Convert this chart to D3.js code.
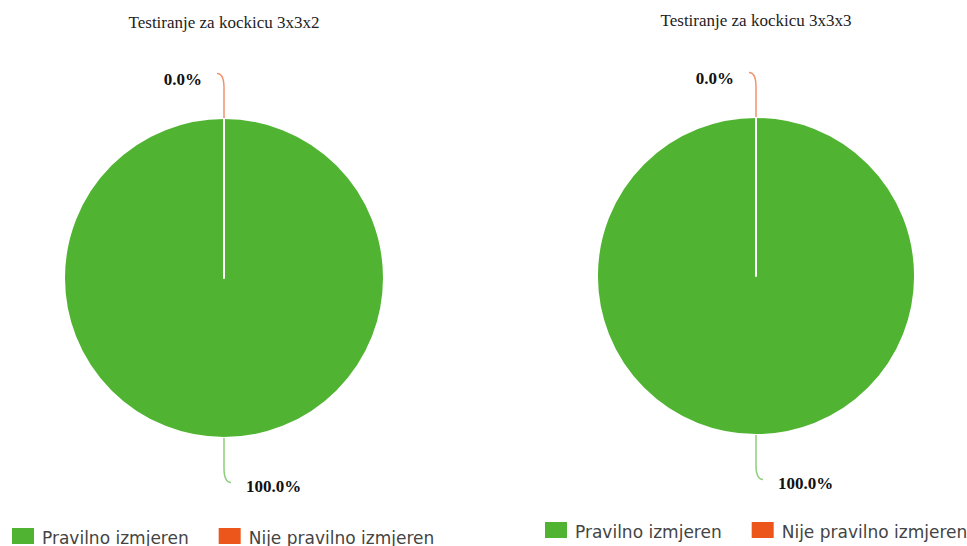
<!DOCTYPE html>
<html>
<head>
<meta charset="utf-8">
<script src="https://cdn.jsdelivr.net/npm/d3@7/dist/d3.min.js"></script>
<style>
  html, body { margin: 0; padding: 0; background: #fff; }
  svg { display: block; }
</style>
</head>
<body>
<svg id="chart" width="967" height="546"></svg>
<script>
// ---- data ----
const categories = ["Pravilno izmjeren", "Nije pravilno izmjeren"];
const colors = ["#50B432", "#ED561B"];
const titles = ["Testiranje za kockicu 3x3x2", "Testiranje za kockicu 3x3x3"];
const values3x3x2 = [100.0, 0.0];
const values3x3x3 = [100.0, 0.0];
const seriesValues = [values3x3x2, values3x3x3];

// ---- layout (not data) ----
const layouts = [
  { cx: 224, cy: 278, r: 160, titleY: 28, legendX: 12, legendY: 544 },
  { cx: 756, cy: 276, r: 159, titleY: 26, legendX: 545, legendY: 538 }
];

const svg = d3.select("#chart");
const color = d3.scaleOrdinal().domain(categories).range(colors);
const fmt = d3.format(".1f");

seriesValues.forEach((vals, ci) => {
  const L = layouts[ci];
  const data = categories.map((c, i) => ({ name: c, value: vals[i] }));
  const total = d3.sum(vals);

  const g = svg.append("g");

  // title
  g.append("text")
    .attr("x", L.cx).attr("y", L.titleY)
    .attr("text-anchor", "middle")
    .style("font-family", "'Liberation Serif', 'Times New Roman', serif")
    .style("font-size", "17px")
    .style("fill", "#222")
    .text(titles[ci]);

  const pie = d3.pie().sort(null).value(d => d.value);
  const arcs = pie(data);
  const arc = d3.arc().innerRadius(0).outerRadius(L.r);

  const pg = g.append("g").attr("transform", `translate(${L.cx},${L.cy})`);

  pg.selectAll("path.slice")
    .data(arcs)
    .join("path")
    .attr("class", "slice")
    .attr("d", arc)
    .attr("fill", d => color(d.data.name))
    .attr("stroke", "#fff")
    .attr("stroke-width", 2)
    .attr("stroke-linejoin", "round");

  // connectors + labels
  arcs.forEach(d => {
    const a = (d.startAngle + d.endAngle) / 2;
    const sx = Math.sin(a), sy = -Math.cos(a);
    const x0 = sx * L.r, y0 = sy * L.r;
    const upper = sy < 0;
    const dir = upper ? -1 : 1;
    const side = upper ? -1 : 1;
    const x1 = x0, y1 = y0 + dir * 30;
    const yEnd = y0 + dir * 44.5;
    const xEnd = x0 + side * 7;
    pg.append("path")
      .attr("d", `M${x0},${y0}L${x1},${y1}Q${x0},${yEnd} ${xEnd},${yEnd}`)
      .attr("fill", "none")
      .attr("stroke", color(d.data.name))
      .attr("stroke-opacity", 0.65)
      .attr("stroke-width", 1.5);

    const pct = total ? d.data.value / total * 100 : 0;
    pg.append("text")
      .attr("x", x0 + side * 22)
      .attr("y", upper ? y0 - 33 : y0 + 54)
      .attr("text-anchor", upper ? "end" : "start")
      .style("font-family", "'Liberation Serif', 'Times New Roman', serif")
      .style("font-size", "17px")
      .style("font-weight", "bold")
      .style("fill", "#111")
      .text(fmt(pct) + "%");
  });

  // legend
  const lg = g.append("g");
  let x = L.legendX;
  categories.forEach((c, i) => {
    lg.append("rect")
      .attr("x", x).attr("y", L.legendY - 16)
      .attr("width", 22).attr("height", 16)
      .attr("fill", color(c));
    const t = lg.append("text")
      .attr("x", x + 30).attr("y", L.legendY)
      .style("font-family", "'DejaVu Sans', Verdana, sans-serif")
      .style("font-size", "17px")
      .style("fill", "#444")
      .text(c);
    x = x + 30 + t.node().getComputedTextLength() + 30;
  });
});
</script>
</body>
</html>
